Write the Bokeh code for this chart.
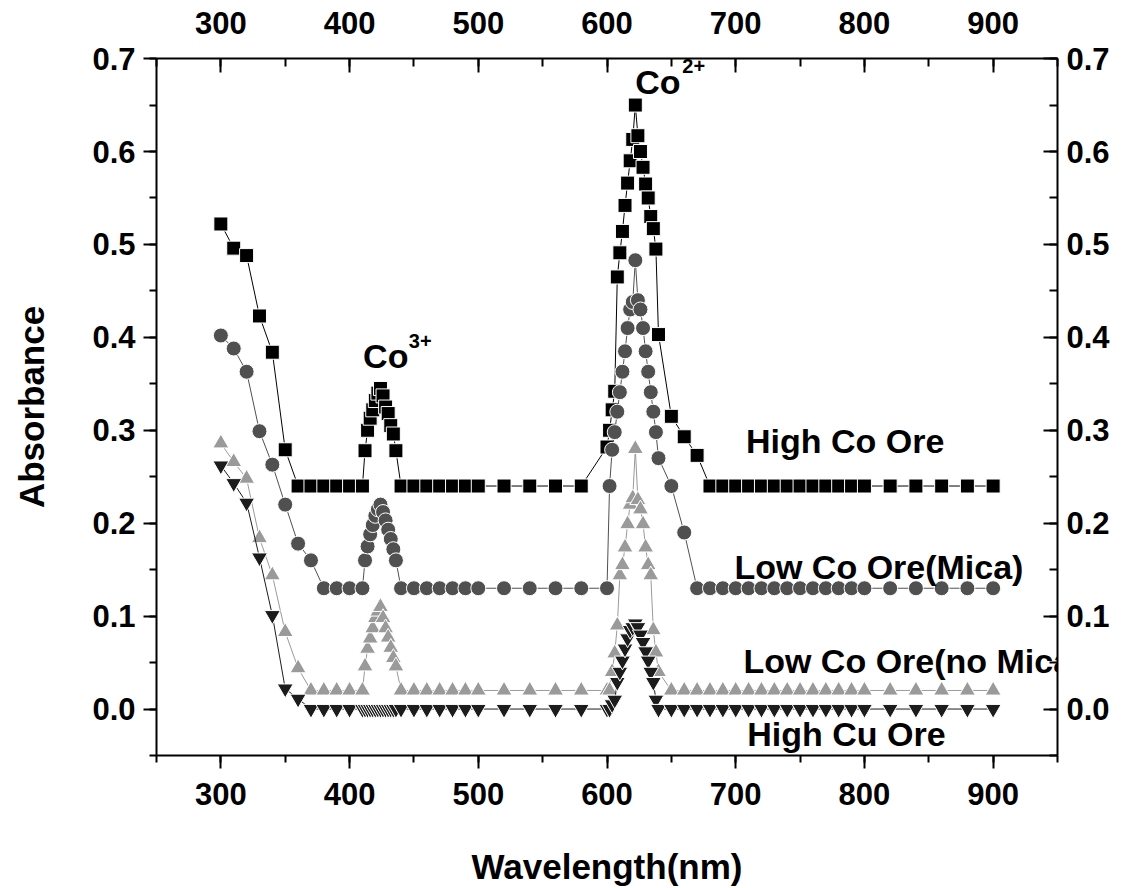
from bokeh.plotting import figure
from bokeh.models import Range1d, LinearAxis, SingleIntervalTicker, PrintfTickFormatter, Label
from bokeh.embed import file_html
from bokeh.resources import INLINE

# wavelength grid (nm), shared by all four spectra
wavelength = [300, 310, 320, 330, 340, 350, 360, 370, 380, 390, 400, 410,
              412, 414, 416, 418, 420, 422, 424, 426, 428, 430, 432, 434, 436,
              440, 450, 460, 470, 480, 490, 500,
              520, 540, 560, 580,
              600, 602, 604, 606, 608, 610, 612, 614, 616, 618, 620,
              622, 624, 626, 628, 630, 632, 634, 636, 638, 640,
              650, 660, 670, 680, 690, 700, 710, 720, 730, 740, 750, 760, 770, 780, 790, 800,
              820, 840, 860, 880, 900]

high_co = [0.522, 0.496, 0.488, 0.423, 0.384, 0.279, 0.24, 0.24, 0.24, 0.24, 0.24, 0.24,
           0.278, 0.300, 0.313, 0.322, 0.332, 0.340, 0.345, 0.337, 0.325, 0.318, 0.305, 0.296, 0.278,
           0.24, 0.24, 0.24, 0.24, 0.24, 0.24, 0.24,
           0.24, 0.24, 0.24, 0.24,
           0.282, 0.300, 0.322, 0.342, 0.465, 0.491, 0.514, 0.542, 0.566, 0.590, 0.613,
           0.650, 0.617, 0.600, 0.583, 0.565, 0.550, 0.530, 0.517, 0.495, 0.403,
           0.315, 0.293, 0.273, 0.24, 0.24, 0.24, 0.24, 0.24, 0.24, 0.24, 0.24, 0.24, 0.24, 0.24, 0.24, 0.24,
           0.24, 0.24, 0.24, 0.24, 0.24]

low_co_mica = [0.402, 0.388, 0.363, 0.299, 0.263, 0.220, 0.178, 0.160, 0.13, 0.13, 0.13, 0.13,
               0.160, 0.175, 0.188, 0.198, 0.208, 0.215, 0.220, 0.212, 0.203, 0.193, 0.183, 0.172, 0.160,
               0.13, 0.13, 0.13, 0.13, 0.13, 0.13, 0.13,
               0.13, 0.13, 0.13, 0.13,
               0.13, 0.24, 0.279, 0.298, 0.320, 0.341, 0.363, 0.385, 0.410, 0.430, 0.438,
               0.483, 0.440, 0.430, 0.410, 0.385, 0.363, 0.341, 0.320, 0.298, 0.270,
               0.24, 0.19, 0.13, 0.13, 0.13, 0.13, 0.13, 0.13, 0.13, 0.13, 0.13, 0.13, 0.13, 0.13, 0.13, 0.13,
               0.13, 0.13, 0.13, 0.13, 0.13]

low_co_nomica = [0.286, 0.266, 0.248, 0.184, 0.144, 0.083, 0.044, 0.02, 0.02, 0.02, 0.02, 0.02,
                 0.046, 0.065, 0.076, 0.087, 0.098, 0.105, 0.110, 0.098, 0.087, 0.077, 0.066, 0.055, 0.046,
                 0.02, 0.02, 0.02, 0.02, 0.02, 0.02, 0.02,
                 0.02, 0.02, 0.02, 0.02,
                 0.02, 0.02, 0.04, 0.06, 0.09, 0.144, 0.155, 0.174, 0.199, 0.220, 0.227,
                 0.280, 0.225, 0.215, 0.199, 0.174, 0.155, 0.144, 0.085, 0.061, 0.04,
                 0.02, 0.02, 0.02, 0.02, 0.02, 0.02, 0.02, 0.02, 0.02, 0.02, 0.02, 0.02, 0.02, 0.02, 0.02, 0.02,
                 0.02, 0.02, 0.02, 0.02, 0.02]

high_cu = [0.262, 0.243, 0.222, 0.163, 0.101, 0.022, 0.011, 0.0, 0.0, 0.0, 0.0, 0.0,
           0.0, 0.0, 0.0, 0.0, 0.0, 0.0, 0.0, 0.0, 0.0, 0.0, 0.0, 0.0, 0.0,
           0.0, 0.0, 0.0, 0.0, 0.0, 0.0, 0.0,
           0.0, 0.0, 0.0, 0.0,
           0.0, 0.0, 0.005, 0.010, 0.029, 0.040, 0.052, 0.065, 0.076, 0.085, 0.088,
           0.092, 0.088, 0.080, 0.072, 0.062, 0.052, 0.040, 0.029, 0.010, 0.0,
           0.0, 0.0, 0.0, 0.0, 0.0, 0.0, 0.0, 0.0, 0.0, 0.0, 0.0, 0.0, 0.0, 0.0, 0.0, 0.0,
           0.0, 0.0, 0.0, 0.0, 0.0]

FONT = "Liberation Sans"

p = figure(frame_width=901, frame_height=697,
           x_range=Range1d(250, 950), y_range=Range1d(-0.05, 0.7001),
           min_border_left=156, min_border_right=63, min_border_top=58, min_border_bottom=132,
           output_backend="svg", toolbar_location=None)
p.grid.visible = False
p.outline_line_color = None

bottom_axis = p.below[0]
left_axis = p.left[0]

xticker = SingleIntervalTicker(interval=100, num_minor_ticks=2)
yticker = SingleIntervalTicker(interval=0.1, num_minor_ticks=2)
yfmt = PrintfTickFormatter(format="%.1f")

bottom_axis.ticker = xticker
left_axis.ticker = yticker
left_axis.formatter = yfmt

top_axis = LinearAxis(ticker=xticker)
right_axis = LinearAxis(ticker=yticker, formatter=yfmt)
p.add_layout(top_axis, "above")
p.add_layout(right_axis, "right")

for ax in [bottom_axis, left_axis, top_axis, right_axis]:
    ax.axis_line_width = 2
    ax.major_tick_line_width = 2
    ax.minor_tick_line_width = 2
    ax.major_label_text_font = FONT
    ax.major_label_text_font_style = "bold"
    ax.major_label_text_font_size = "31px"
    ax.major_label_text_color = "black"

# outward ticks bottom/left, inward ticks top/right
for ax in [bottom_axis, left_axis]:
    ax.major_tick_out = 13
    ax.major_tick_in = 0
    ax.minor_tick_out = 7
    ax.minor_tick_in = 0
for ax in [top_axis, right_axis]:
    ax.major_tick_out = 0
    ax.major_tick_in = 14
    ax.minor_tick_out = 0
    ax.minor_tick_in = 8

bottom_axis.major_label_standoff = 14
left_axis.major_label_standoff = 8
top_axis.major_label_standoff = 25
right_axis.major_label_standoff = 9

bottom_axis.axis_label = "Wavelength(nm)"
left_axis.axis_label = "Absorbance"
for ax in [bottom_axis, left_axis]:
    ax.axis_label_text_font = FONT
    ax.axis_label_text_font_style = "bold"
    ax.axis_label_text_font_size = "35px"
    ax.axis_label_text_color = "black"
bottom_axis.axis_label_standoff = 39
left_axis.axis_label_standoff = 38

# spectra: thin connecting line plus markers
p.line(wavelength, high_co, line_color="black", line_width=1)
p.scatter(wavelength, high_co, marker="square", size=14, fill_color="black", line_color="white", line_width=1)

p.line(wavelength, low_co_mica, line_color="#505050", line_width=1)
p.scatter(wavelength, low_co_mica, marker="circle", size=15, fill_color="#505050", line_color="white", line_width=1)

p.line(wavelength, low_co_nomica, line_color="#9a9a9a", line_width=1)
p.scatter(wavelength, low_co_nomica, marker="triangle", size=16, fill_color="#9a9a9a", line_color="white", line_width=1)

p.line(wavelength, high_cu, line_color="#1c1c1c", line_width=1)
p.scatter(wavelength, high_cu, marker="inverted_triangle", size=16, fill_color="#1c1c1c", line_color="white", line_width=1)


def note(x, y, text, size="34px"):
    p.add_layout(Label(x=x, y=y, text=text, text_font=FONT, text_font_style="bold",
                       text_font_size=size, text_color="black", text_baseline="middle"))


note(708, 0.288, "High Co Ore")
note(699, 0.1526, "Low Co Ore(Mica)")
note(706, 0.0513, "Low Co Ore(no Mica)")
note(709, -0.0264, "High Cu Ore")
note(410.5, 0.380, "Co")
note(446, 0.396, "3+", "20px")
note(622, 0.6747, "Co")
note(658.5, 0.692, "2+", "20px")

open("out.html", "w").write(file_html(p, INLINE))
